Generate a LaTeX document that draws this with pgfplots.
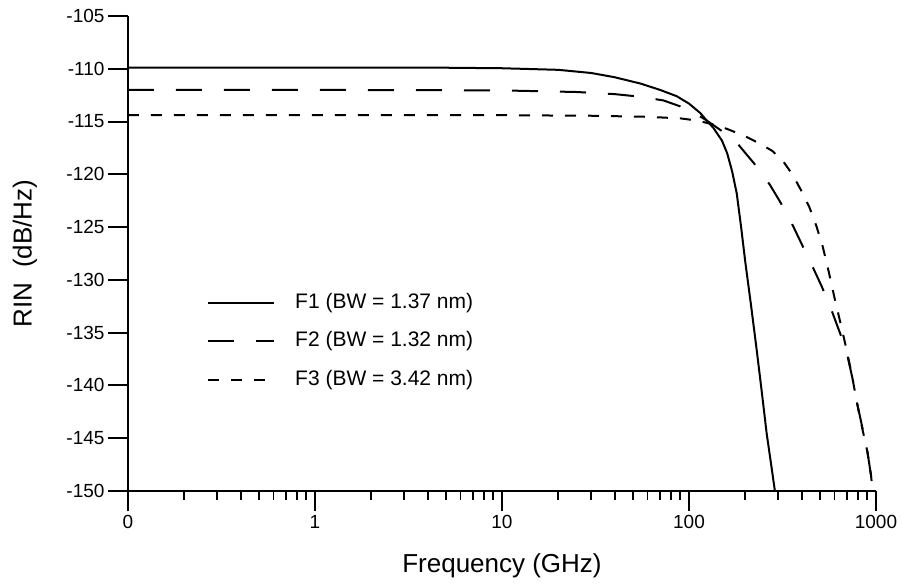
\documentclass[border=0pt]{standalone}
\usepackage{pgfplots}
\pgfplotsset{compat=1.18}
\usepackage{fontspec}
\setmainfont{Liberation Sans}
\begin{document}
\begin{tikzpicture}
\begin{axis}[
  at={(0pt,0pt)}, anchor=south west,
  scale only axis, width=748pt, height=475pt,
  xmode=log, xmin=0.1, xmax=1000, ymin=-150, ymax=-105,
  axis x line*=bottom, axis y line*=left,
  axis line style={-, line width=1.9pt},
  every tick/.style={black, line width=1.9pt},
  tick align=outside,
  major tick length=20pt, minor tick length=9pt,
  xtick={0.1,1,10,100,1000}, xticklabels={0,1,10,100,1000},
  minor xtick={0.2,0.3,0.4,0.5,0.6,0.7,0.8,0.9,2,3,4,5,6,7,8,9,20,30,40,50,60,70,80,90,200,300,400,500,600,700,800,900},
  ytick={-150,-145,-140,-135,-130,-125,-120,-115,-110,-105},
  /pgf/number format/assume math mode=true,
  ticklabel style={font=\fontsize{19}{22}\selectfont},
  xticklabel style={yshift=-1pt},
  xlabel={Frequency (GHz)}, ylabel={RIN\ \ (dB/Hz)},
  label style={font=\fontsize{26}{30}\selectfont},
  xlabel style={at={(axis description cs:0.5,-0.158)}, anchor=center},
  ylabel style={at={(axis description cs:-0.1377,0.5)}, anchor=center},
  legend style={draw=none, fill=none, inner sep=0pt,
    at={(axis description cs:0.1056,0.417)}, anchor=north west,
    font=\fontsize{21}{24}\selectfont, row sep=19pt,
    nodes={inner sep=0pt, text height=15pt, text depth=4.5pt},
    /tikz/every odd column/.append style={column sep=20pt}},
  legend cell align=left,
  legend image code/.code={\draw[#1] (0pt,0pt) -- (66pt,0pt);},
]
\addplot[black, line width=2pt] coordinates {
(0.1,-109.9) (1,-109.9) (5,-109.9) (10,-109.95) (20,-110.1) (30,-110.4)
(40,-110.8) (55,-111.4) (70,-112.0) (86,-112.6) (100,-113.3) (115,-114.2)
(125,-114.95) (135,-115.6) (150,-116.8) (160,-118.0) (170,-119.7) (180,-121.8)
(190,-125.0) (200,-128.3) (215,-132.5) (230,-136.6) (245,-140.6) (260,-144.5)
(275,-147.5) (288,-150)
};
\addlegendentry{F1 (BW = 1.37 nm)}
\addplot[black, line width=2pt, dash pattern=on 26pt off 22pt] coordinates {
(0.1,-112.0) (1,-112.0) (10,-112.05) (25,-112.2) (40,-112.4) (55,-112.65)
(73,-113.0) (98,-113.8) (122,-114.8) (150,-115.9) (180,-117.0) (231,-119.3)
(271,-121.0) (307,-122.6) (347,-124.3) (408,-126.9) (443,-128.2) (512,-130.6)
(582,-133.0) (650,-135.3) (700,-137.0) (750,-139.4) (800,-142.0) (850,-144.2)
(900,-146.3) (940,-148.5) (960,-150)
};
\addlegendentry{F2 (BW = 1.32 nm)}
\addplot[black, line width=2pt, dash pattern=on 11pt off 12pt] coordinates {
(0.1,-114.4) (1,-114.4) (10,-114.4) (30,-114.45) (60,-114.55) (90,-114.7)
(110,-114.9) (130,-115.2) (160,-115.7) (200,-116.4) (240,-117.1) (280,-117.8)
(320,-118.8) (360,-120.1) (400,-121.6) (440,-123.1) (480,-124.9) (520,-126.9)
(560,-129.3) (600,-131.7) (650,-134.3) (700,-136.8) (750,-139.4) (800,-142.1)
(850,-144.3) (900,-146.3) (940,-148.5) (960,-150)
};
\addlegendentry{F3 (BW = 3.42 nm)}
\end{axis}
\pgfresetboundingbox
\useasboundingbox (-128pt,-94pt) rectangle (774pt,491pt);
\end{tikzpicture}
\end{document}
